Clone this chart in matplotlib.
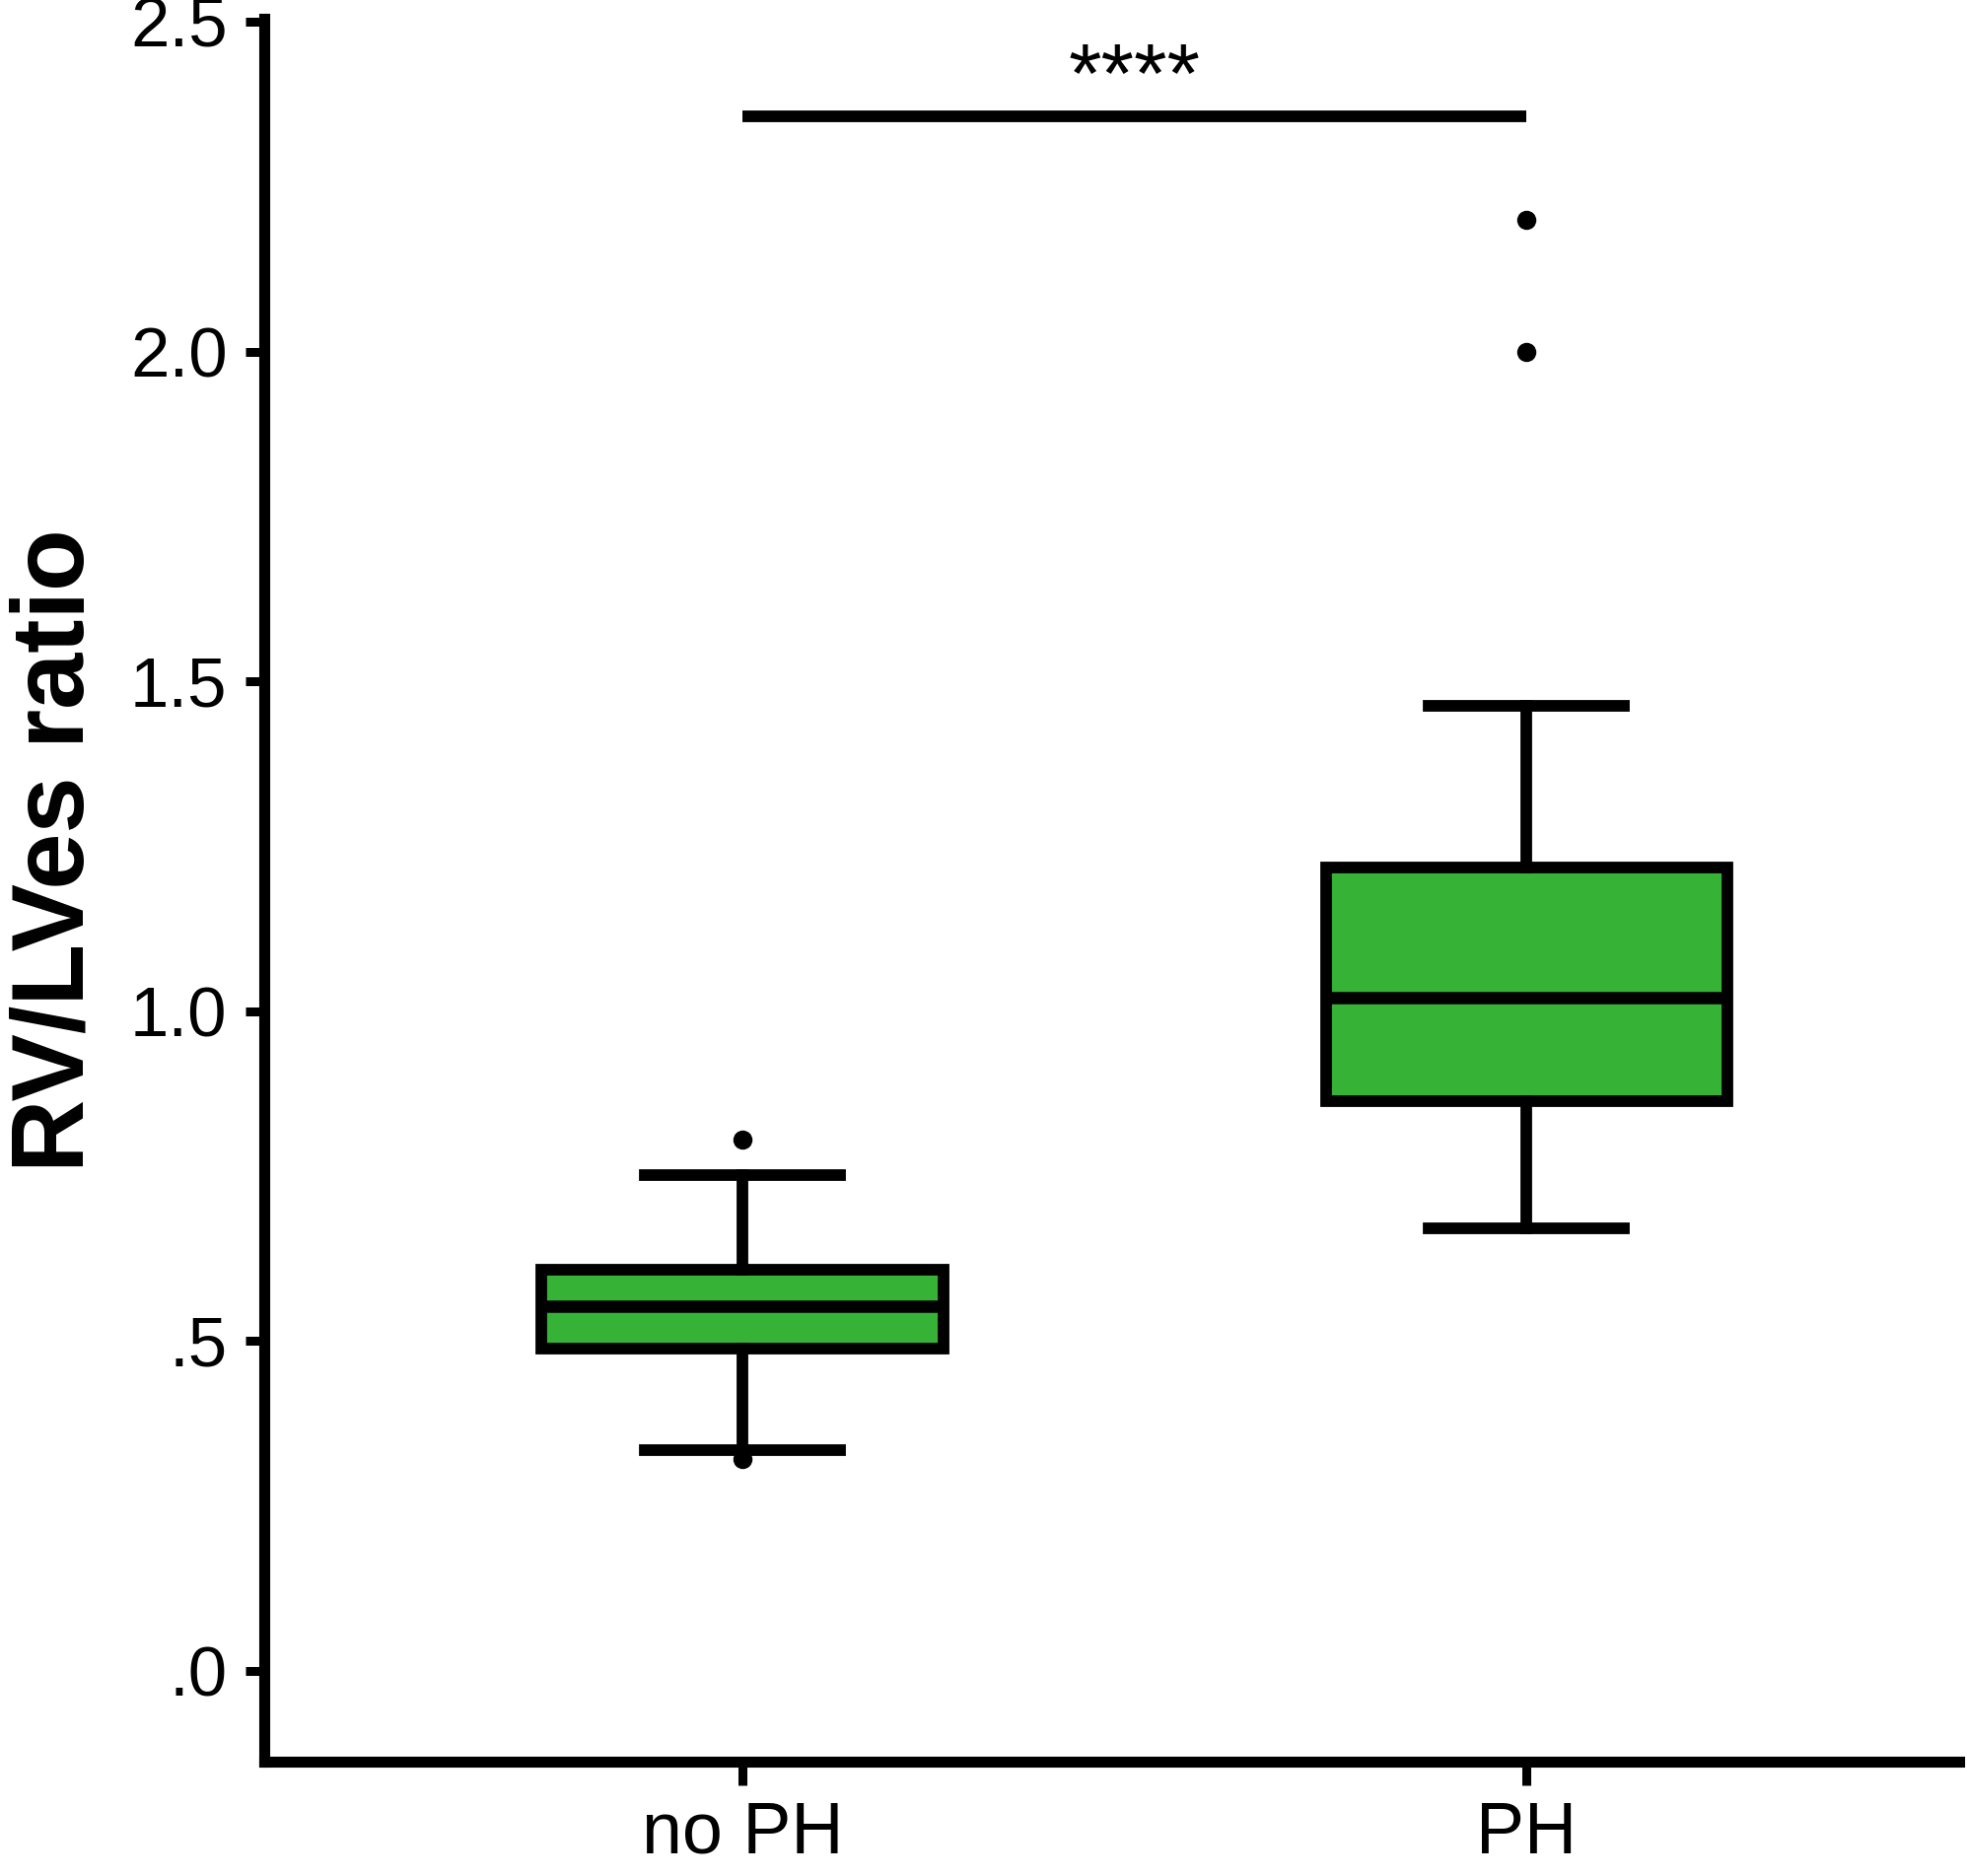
import matplotlib
matplotlib.use("Agg")
import matplotlib.pyplot as plt

plt.rcParams['font.family'] = ['Liberation Sans', 'DejaVu Sans']

# box summary
groups = ['no PH', 'PH']
medians = [0.553, 1.021]
q1s = [0.489, 0.864]
q3s = [0.608, 1.218]
whis_lo = [0.335, 0.671]
whis_hi = [0.752, 1.463]
outliers = [[0.805, 0.321], [2.2, 2.0]]

yticks = [0.0, 0.5, 1.0, 1.5, 2.0, 2.5]
ytick_labels = ['.0', '.5', '1.0', '1.5', '2.0', '2.5']
sig_y = 2.357
sig_text = '****'

green = '#36B236'
lw = 8.5

stats = []
for i, g in enumerate(groups):
    stats.append({'label': g, 'med': medians[i], 'q1': q1s[i], 'q3': q3s[i],
                  'whislo': whis_lo[i], 'whishi': whis_hi[i], 'fliers': outliers[i]})

fig = plt.figure(figsize=(19.95, 19.03), dpi=100)
ax = fig.add_axes([268 / 1995, 1 - 1787 / 1903, (1987 - 268) / 1995, (1787 - 19) / 1903])

ax.bxp(stats, positions=[1, 2], widths=0.512, patch_artist=True,
       boxprops=dict(facecolor=green, edgecolor='black', linewidth=lw),
       medianprops=dict(color='black', linewidth=lw + 0.5),
       whiskerprops=dict(color='black', linewidth=lw),
       capprops=dict(color='black', linewidth=lw),
       capwidths=0.25,
       flierprops=dict(marker='o', markersize=13, markerfacecolor='black',
                       markeredgecolor='black'))

# significance bar
ax.plot([1, 2], [sig_y, sig_y], color='black', linewidth=lw, solid_capstyle='butt')
ax.text(1.5, sig_y - 0.006, sig_text, ha='center', va='bottom', fontsize=62)

ax.set_xlim(0.39, 2.552)
ax.set_ylim(-0.1375, 2.505)
ax.set_yticks(yticks)
ax.set_yticklabels(ytick_labels)
ax.set_xticks([1, 2])
ax.set_xticklabels(groups)

for side in ['top', 'right']:
    ax.spines[side].set_visible(False)
for side in ['left', 'bottom']:
    ax.spines[side].set_linewidth(8)

ax.tick_params(axis='y', length=14, width=6.5, pad=13, labelsize=51)
ax.tick_params(axis='x', length=17, width=6.5, pad=11, labelsize=53)

ax.set_ylabel('RV/LVes ratio', fontsize=74, fontweight='bold')
ax.yaxis.set_label_coords(-0.094, 0.523)

fig.savefig('out.png', dpi=100, facecolor='white')
